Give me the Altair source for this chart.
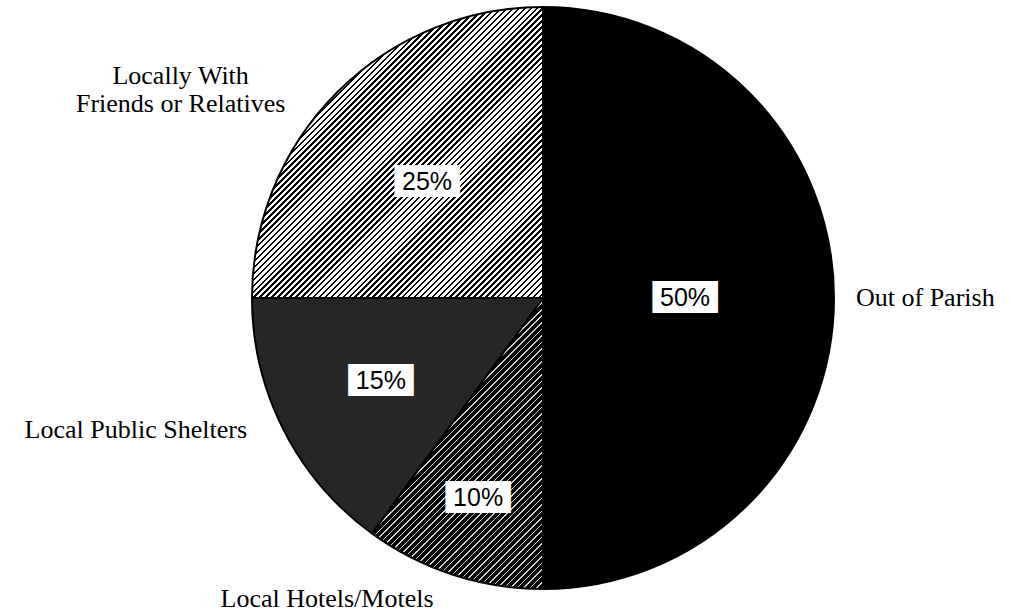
import math
import altair as alt
import pandas as pd

# ---- data (clockwise from 12 o'clock) ----
categories = ["Out of Parish", "Local Hotels/Motels", "Local Public Shelters",
              "Locally With Friends or Relatives"]
shares = [50, 10, 15, 25]
pct_labels = ["50%", "10%", "15%", "25%"]
outer_labels = ["Out of Parish", "Local Hotels/Motels", "Local Public Shelters",
                "Locally With\nFriends or Relatives"]

df = pd.DataFrame({
    "cat": categories,
    "share": shares,
    "idx": list(range(len(categories))),
    "pct": pct_labels,
    "name": outer_labels,
})

# ---- layout / style ----
W, H = 1011, 615
CX, CY, R = 543, 298, 291

inner_r = {categories[0]: 142, categories[1]: 210, categories[2]: 182, categories[3]: 164}
outer_r = {categories[0]: 313, categories[1]: 320, categories[2]: 324, categories[3]: 425}
outer_off = {categories[0]: 0.0, categories[1]: 2.0, categories[2]: 3.0, categories[3]: -13.5}


def ternary(mapping, default="0"):
    expr = default
    for k, v in reversed(list(mapping.items())):
        expr = f"datum.cat === '{k}' ? {v} : ({expr})"
    return expr


def slice_bbox(a0, a1, r):
    pts = [(0.0, 0.0)]
    angs = [a0, a1] + [c for c in (0, 90, 180, 270, 360) if a0 < c < a1]
    for a in angs:
        t = math.radians(a)
        pts.append((r * math.sin(t), -r * math.cos(t)))
    xs = [p[0] for p in pts]
    ys = [p[1] for p in pts]
    return max(xs) - min(xs), max(ys) - min(ys)


def hatch(w, h, period, ink, paper, ink_frac):
    a = (w + h) / (w * w + h * h)
    x2, y2 = w * a, h * a
    L = (w + h) / math.sqrt(2)
    n = max(1, round(L / period))
    stops = []
    for k in range(n):
        o0 = round(k / n, 6)
        o1 = round((k + ink_frac) / n, 6)
        o2 = round(min(1.0, (k + 1) / n), 6)
        stops += [{"offset": o0, "color": ink}, {"offset": o1, "color": ink},
                  {"offset": o1, "color": paper}, {"offset": o2, "color": paper}]
    return {"gradient": "linear", "x1": 0, "y1": 0, "x2": x2, "y2": y2, "stops": stops}


total = sum(shares)
bounds = []
acc = 0
for s in shares:
    a0 = acc / total * 360
    acc += s
    a1 = acc / total * 360
    bounds.append((a0, a1))

fills = {}
for cat, (a0, a1) in zip(categories, bounds):
    w, h = slice_bbox(a0, a1, R)
    if cat == "Out of Parish":
        fills[cat] = "#000000"
    elif cat == "Local Hotels/Motels":
        fills[cat] = hatch(w, h, 4.6, "#000000", "#d0d0d0", 0.74)
    elif cat == "Local Public Shelters":
        fills[cat] = "#262626"
    else:
        fills[cat] = hatch(w, h, 4.2, "#000000", "#ffffff", 0.42)

theta_scale = alt.Scale(domain=[0, 1], range=[0, 2 * math.pi])

base = (
    alt.Chart(df)
    .transform_window(cum="sum(share)", sort=[alt.SortField("idx")], frame=[None, 0])
    .transform_joinaggregate(total="sum(share)")
    .transform_calculate(
        start="(datum.cum - datum.share) / datum.total",
        end="datum.cum / datum.total",
        mid="(datum.cum - datum.share / 2) / datum.total",
        ir=ternary(inner_r),
        lr=ternary(outer_r),
        lang="(datum.cum - datum.share / 2) / datum.total + (" + ternary(outer_off) + ") / 360",
    )
)

layers = []
for cat in categories:
    layers.append(
        base.transform_filter(alt.datum.cat == cat)
        .mark_arc(radius=R, fill=fills[cat], stroke="#000000", strokeWidth=2)
        .encode(
            theta=alt.Theta("start:Q", scale=theta_scale),
            theta2="end:Q",
            x=alt.value(CX),
            y=alt.value(CY),
        )
    )

# white label boxes
layers.append(
    base.mark_text(font="DejaVu Sans Mono", fontSize=27, color="#ffffff",
                   align="center", baseline="middle")
    .encode(
        theta=alt.Theta("mid:Q", scale=theta_scale),
        radius=alt.Radius("ir:Q", scale=None),
        x=alt.value(CX),
        y=alt.value(CY),
        text=alt.value("\u2588\u2588\u2588\u2588"),
    )
)
# percentage text
layers.append(
    base.mark_text(font="Liberation Sans", fontSize=25, color="#000000",
                   align="center", baseline="middle")
    .encode(
        theta=alt.Theta("mid:Q", scale=theta_scale),
        radius=alt.Radius("ir:Q", scale=None),
        x=alt.value(CX),
        y=alt.value(CY),
        text="pct:N",
    )
)

# outer category labels
align_groups = {
    "left": ["Out of Parish"],
    "right": ["Local Hotels/Motels", "Local Public Shelters"],
    "center": ["Locally With Friends or Relatives"],
}
for al, cats in align_groups.items():
    layers.append(
        base.transform_filter(alt.FieldOneOfPredicate(field="cat", oneOf=cats))
        .mark_text(font="Liberation Serif", fontSize=26, color="#000000",
                   align=al, baseline="middle", lineBreak="\n", lineHeight=28)
        .encode(
            theta=alt.Theta("lang:Q", scale=theta_scale),
            radius=alt.Radius("lr:Q", scale=None),
            x=alt.value(CX),
            y=alt.value(CY),
            text="name:N",
        )
    )

chart = (
    alt.layer(*layers)
    .properties(width=W, height=H, padding=0, autosize=alt.AutoSizeParams(type="none"),
                background="#ffffff")
    .configure_view(stroke=None)
)

chart.save("out.html", embed_options={"renderer": "svg", "actions": False})
